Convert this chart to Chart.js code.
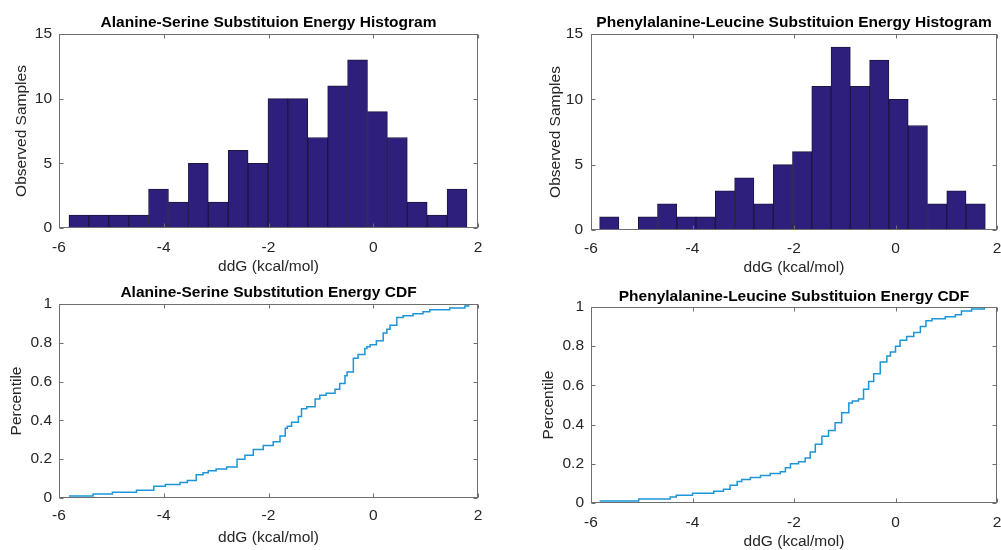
<!DOCTYPE html>
<html>
<head>
<meta charset="utf-8">
<script src="https://cdn.jsdelivr.net/npm/chart.js@4.4.1/dist/chart.umd.min.js"></script>
<style>
  body { margin: 0; background: #fff; }
  canvas { position: absolute; }
</style>
</head>
<body>
<canvas id="alaHist" width="500" height="275" style="left:0;top:0"></canvas>
<canvas id="pheHist" width="501" height="275" style="left:500px;top:0"></canvas>
<canvas id="alaCdf" width="500" height="275" style="left:0;top:275px"></canvas>
<canvas id="pheCdf" width="501" height="275" style="left:500px;top:275px"></canvas>
<script>
// Histogram data (20 bins each)
const alaFirstEdge = -5.81;
const alaBinWidth = 0.38;
const alaCounts = [1, 1, 1, 1, 3, 2, 5, 2, 6, 5, 10, 10, 7, 11, 13, 9, 7, 2, 1, 3];

const pheFirstEdge = -5.83;
const pheBinWidth = 0.38;
const pheCounts = [1, 0, 1, 2, 1, 1, 3, 4, 2, 5, 6, 11, 14, 11, 13, 10, 8, 2, 3, 2];

// CDF step points (ddG where the step happens, percentile after it)
const alaCdfX = [-5.81, -5.35, -4.98, -4.52, -4.19, -3.97, -3.69, -3.55, -3.38, -3.25, -3.15, -3.0, -2.8, -2.6,
    -2.45, -2.29, -2.1, -1.91, -1.78, -1.68, -1.64, -1.56, -1.43, -1.37, -1.27, -1.11, -1.02, -0.9, -0.73,
    -0.64, -0.54, -0.5, -0.38, -0.29, -0.16, -0.12, -0.06, 0.06, 0.19, 0.26, 0.32, 0.45, 0.57, 0.76, 0.95,
    1.08, 1.46, 1.75, 1.82];
const alaCdfY = [0.01, 0.02, 0.03, 0.04, 0.06, 0.07, 0.08, 0.09, 0.12, 0.13, 0.14, 0.15, 0.16, 0.20,
    0.22, 0.25, 0.27, 0.29, 0.32, 0.36, 0.37, 0.39, 0.42, 0.46, 0.47, 0.51, 0.53, 0.54, 0.56,
    0.59, 0.63, 0.65, 0.72, 0.74, 0.77, 0.78, 0.79, 0.81, 0.85, 0.87, 0.89, 0.93, 0.94, 0.95, 0.96,
    0.97, 0.98, 0.99, 1.00];

const pheCdfX = [-5.83, -5.06, -4.44, -4.32, -4.0, -3.58, -3.39, -3.26, -3.12, -3.03, -2.86, -2.66, -2.47,
    -2.27, -2.17, -2.07, -1.91, -1.78, -1.68, -1.58, -1.45, -1.32, -1.19, -1.06, -0.92, -0.85, -0.73,
    -0.63, -0.53, -0.43, -0.3, -0.17, -0.1, 0.0, 0.09, 0.22, 0.36, 0.49, 0.6, 0.72, 0.98, 1.18, 1.3,
    1.5, 1.75];
const pheCdfY = [0.01, 0.02, 0.03, 0.04, 0.05, 0.06, 0.07, 0.09, 0.11, 0.12, 0.13, 0.14, 0.15,
    0.16, 0.18, 0.20, 0.21, 0.23, 0.26, 0.30, 0.34, 0.37, 0.41, 0.46, 0.51, 0.52, 0.53,
    0.58, 0.62, 0.66, 0.72, 0.75, 0.77, 0.80, 0.83, 0.85, 0.87, 0.90, 0.93, 0.94, 0.95, 0.96, 0.98,
    0.99, 1.00];

// Axis ranges
const xMin = -6, xMax = 2, xStep = 2;
const histMax = 15, histStep = 5;
const cdfMax = 1, cdfStep = 0.2;

const barColor = 'rgb(46, 31, 125)';
const barEdge = '#1c1640';
const lineColor = '#1d95d8';
const textColor = '#262626';
const fontFamily = '"Liberation Sans", Arial, Helvetica, sans-serif';

// MATLAB style box with inward ticks on all four sides
const boxPlugin = {
    id: 'matlabBox',
    afterDraw(chart) {
        const ctx = chart.ctx;
        const a = chart.chartArea;
        const x = chart.scales.x, y = chart.scales.y;
        ctx.save();
        ctx.strokeStyle = '#6f6f6f';
        ctx.lineWidth = 1;
        const l = Math.round(a.left) + 0.5, r = Math.round(a.right) - 0.5;
        const t = Math.round(a.top) + 0.5, b = Math.round(a.bottom) - 0.5;
        ctx.strokeRect(l, t, r - l, b - t);
        ctx.beginPath();
        x.ticks.forEach(tk => {
            const px = Math.round(x.getPixelForValue(tk.value)) + 0.5;
            ctx.moveTo(px, b); ctx.lineTo(px, b - 4);
            ctx.moveTo(px, t); ctx.lineTo(px, t + 4);
        });
        y.ticks.forEach(tk => {
            const py = Math.round(y.getPixelForValue(tk.value)) + 0.5;
            ctx.moveTo(l, py); ctx.lineTo(l + 4, py);
            ctx.moveTo(r, py); ctx.lineTo(r - 4, py);
        });
        ctx.stroke();
        ctx.restore();
    }
};

function histData(firstEdge, width, counts) {
    return counts.map((c, i) => ({ x: firstEdge + (i + 0.5) * width, y: c }));
}

function cdfData(xs, ys) {
    return xs.map((v, i) => ({ x: v, y: ys[i] }));
}

function buildOptions(p) {
    return {
        responsive: false,
        animation: false,
        layout: { padding: { left: p.padLeft, right: p.padRight, top: 0, bottom: p.padBottom || 0 } },
        plugins: {
            legend: { display: false },
            tooltip: { enabled: false },
            title: {
                display: true,
                text: p.title,
                fullSize: false,
                color: '#000',
                font: { family: fontFamily, size: 15.5, weight: 'bold' },
                padding: { top: p.titleTop, bottom: p.titleBottom }
            }
        },
        scales: {
            x: {
                type: 'linear',
                min: xMin,
                max: xMax,
                offset: false,
                grid: { display: false, drawTicks: false, offset: false },
                border: { display: false },
                ticks: {
                    stepSize: xStep,
                    padding: p.xTickPad,
                    color: textColor,
                    maxRotation: 0,
                    font: { family: fontFamily, size: 15.5 }
                },
                title: {
                    display: true,
                    text: 'ddG (kcal/mol)',
                    color: textColor,
                    font: { family: fontFamily, size: 15.5 },
                    padding: { top: 0, bottom: p.xTitlePad }
                },
                afterFit(s) {
                    s.height = p.xAxisH;
                    s.paddingLeft = 0;
                    s.paddingRight = 0;
                }
            },
            y: {
                min: 0,
                max: p.yMax,
                grid: { display: false, drawTicks: false },
                border: { display: false },
                ticks: {
                    stepSize: p.yStep,
                    padding: p.yTickPad,
                    color: textColor,
                    font: { family: fontFamily, size: 15.5 },
                    callback: v => String(Number(v.toFixed(1)))
                },
                title: {
                    display: true,
                    text: p.yTitle,
                    color: textColor,
                    font: { family: fontFamily, size: 15.5 },
                    padding: { top: p.yTitlePad, bottom: 0 }
                },
                afterFit(s) {
                    s.width = p.yAxisW;
                    s.paddingTop = 0;
                    s.paddingBottom = 0;
                }
            }
        }
    };
}

function histChart(id, firstEdge, width, counts, p) {
    new Chart(document.getElementById(id), {
        type: 'bar',
        data: {
            datasets: [{
                data: histData(firstEdge, width, counts),
                backgroundColor: barColor,
                borderColor: barEdge,
                borderWidth: 1,
                barPercentage: 1,
                categoryPercentage: 1,
                grouped: false
            }]
        },
        options: buildOptions(p),
        plugins: [boxPlugin]
    });
}

function cdfChart(id, xs, ys, p) {
    new Chart(document.getElementById(id), {
        type: 'line',
        data: {
            datasets: [{
                data: cdfData(xs, ys),
                borderColor: lineColor,
                borderWidth: 1.5,
                pointRadius: 0,
                stepped: true,
                fill: false
            }]
        },
        options: buildOptions(p),
        plugins: [boxPlugin]
    });
}

histChart('alaHist', alaFirstEdge, alaBinWidth, alaCounts, {
    title: 'Alanine-Serine Substituion Energy Histogram',
    yTitle: 'Observed Samples', yMax: histMax, yStep: histStep,
    padLeft: 0, padRight: 22, yAxisW: 59, xAxisH: 47,
    titleTop: 13, titleBottom: 2.4, xTickPad: 10, xTitlePad: -1.3, yTickPad: 7, yTitlePad: 12
});

histChart('pheHist', pheFirstEdge, pheBinWidth, pheCounts, {
    title: 'Phenylalanine-Leucine Substituion Energy Histogram',
    yTitle: 'Observed Samples', yMax: histMax, yStep: histStep,
    padLeft: 34, padRight: 4, yAxisW: 57, xAxisH: 45,
    titleTop: 13, titleBottom: 2.4, xTickPad: 9, xTitlePad: -2.3, yTickPad: 8, yTitlePad: 12
});

cdfChart('alaCdf', alaCdfX, alaCdfY, {
    title: 'Alanine-Serine Substitution Energy CDF',
    yTitle: 'Percentile', yMax: cdfMax, yStep: cdfStep,
    padLeft: 0, padRight: 22, yAxisW: 59, xAxisH: 47, padBottom: 5,
    titleTop: 8.7, titleBottom: 1.7, xTickPad: 8, xTitlePad: -2.3, yTickPad: 7, yTitlePad: 7.7
});

cdfChart('pheCdf', pheCdfX, pheCdfY, {
    title: 'Phenylalanine-Leucine Substituion Energy CDF',
    yTitle: 'Percentile', yMax: cdfMax, yStep: cdfStep,
    padLeft: 34, padRight: 4, yAxisW: 57, xAxisH: 47,
    titleTop: 12.2, titleBottom: 1.2, xTickPad: 10, xTitlePad: -1.3, yTickPad: 7, yTitlePad: 5.7
});
</script>
</body>
</html>
